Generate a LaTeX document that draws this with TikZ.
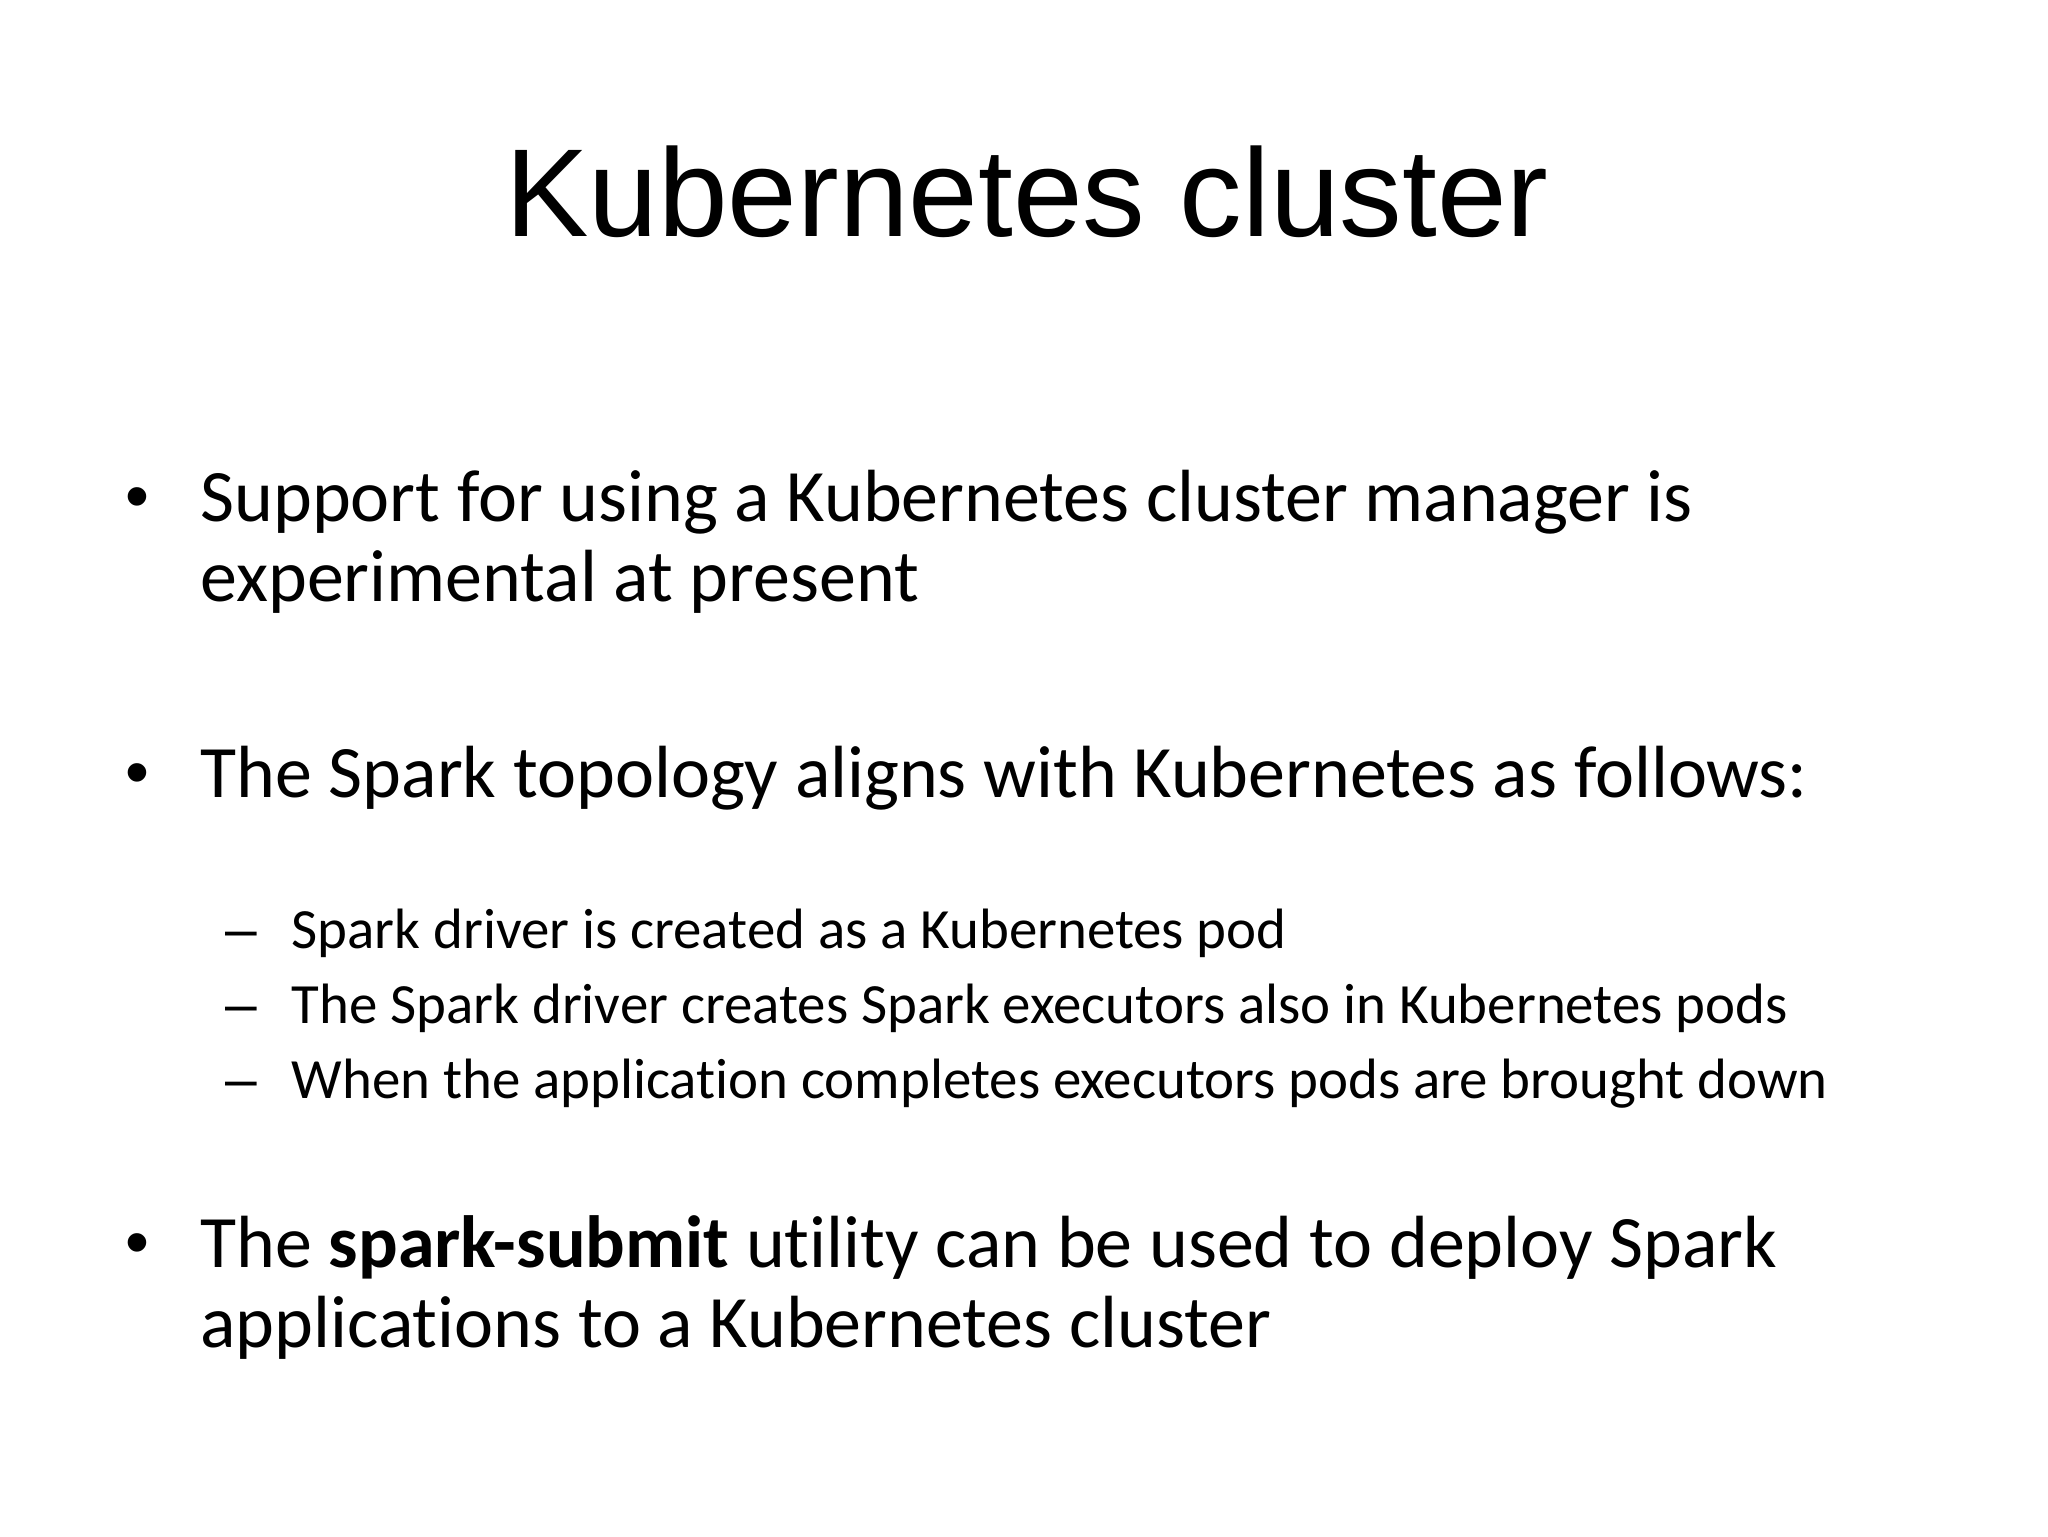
\documentclass[tikz,border=0pt]{standalone}
\usepackage{fontspec}
\setmainfont{Carlito}[Ligatures=NoCommon]
\newfontfamily\arialfont{Liberation Sans}
\usepackage{tikz}
\usetikzlibrary{positioning}

\begin{document}
\begin{tikzpicture}[x=0.3516pt,y=-0.3516pt,
  line/.style={anchor=base west,inner sep=0pt,font=\fontsize{26}{32}\selectfont},
  subline/.style={anchor=base west,inner sep=0pt,font=\fontsize{20}{24}\selectfont},
  dot/.style={anchor=base,inner sep=0pt,font=\arialfont\fontsize{24}{30}\selectfont},
  subdash/.style={anchor=base,inner sep=0pt,font=\arialfont\fontsize{20}{24}\selectfont}]
    \useasboundingbox (0,0) rectangle (2048,1536);
    \node[anchor=base,inner sep=0pt,font=\arialfont\fontsize{44}{52}\selectfont] (title) at (1027,236) {Kubernetes cluster};
    % first bullet
    \node[dot] (b1) at (137,519) {•};
    \node[line] (l1a) at (200,521) {Support for using a Kubernetes cluster manager is};
    \node[line] (l1b) at (200,601) {experimental at present};
    % second bullet
    \node[dot] (b2) at (137,795) {•};
    \node[line] (l2) at (200,797) {The Spark topology aligns with Kubernetes as follows:};
    \node[subdash] (d1) at (241,948) {–};
    \node[subline] (s1) at (291,948) {Spark driver is created as a Kubernetes pod};
    \node[subdash] (d2) at (241,1023) {–};
    \node[subline] (s2) at (291,1023) {The Spark driver creates Spark executors also in Kubernetes pods};
    \node[subdash] (d3) at (241,1098) {–};
    \node[subline] (s3) at (291,1098) {When the application completes executors pods are brought down};
    % third bullet
    \node[dot] (b3) at (137,1265) {•};
    \node[line] (l3a) at (200,1267) {The \textbf{spark-submit} utility can be used to deploy Spark};
    \node[line] (l3b) at (200,1347) {applications to a Kubernetes cluster};
\end{tikzpicture}
\end{document}
